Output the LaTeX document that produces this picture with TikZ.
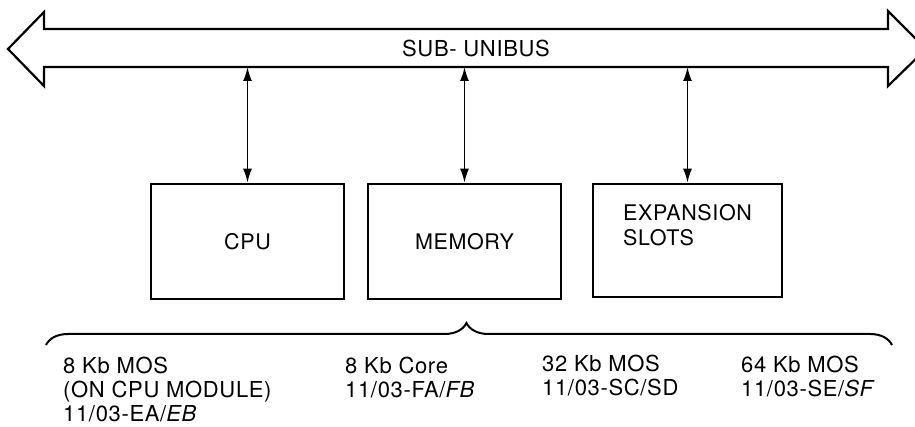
\documentclass[tikz,border=0pt]{standalone}
\usepackage{fontspec}
\setmainfont{TeX Gyre Heros}[LetterSpace=3]
\usetikzlibrary{arrows.meta,decorations.pathreplacing}
\tikzset{
  unitbox/.style={draw,line width=2.6pt,minimum width=193pt,minimum height=115pt,
    align=left,font=\fontsize{21.5}{25}\selectfont},
  colnote/.style={anchor=north west,inner sep=0pt,align=left,
    font=\fontsize{22}{24}\selectfont},
  buslink/.style={line width=1.8pt,{Latex[length=14pt,width=9pt]}-{Latex[length=14pt,width=9pt]}}
}
\begin{document}
\begin{tikzpicture}[x=1pt,y=-1pt]
	% Cadre de la figure
	\useasboundingbox (0,0) rectangle (915,427);
	\clip (0,0) rectangle (915,427);
	% Bus en double fleche
	\draw [line width=2.2pt,line join=miter]
	  (8,49) -- (44,12) -- (44,29) -- (888,29) -- (888,11) -- (926,49)
	  -- (888,86) -- (888,67) -- (44,67) -- (44,86) -- cycle;
	\node (bus) at (476,48.5) {\fontsize{22}{24}\selectfont SUB- UNIBUS};
	\coordinate (busbot) at (476,67);
	% Modules
	\node [unitbox] (cpu) at (247.5,241.5) {CPU};
	\node [unitbox] (mem) at (464.5,241.5) {MEMORY};
	\node [unitbox,minimum width=189pt,minimum height=113pt] (exp) at (687.5,240.5) {EXPANSION\\SLOTS\\[6pt]};
	% Liaisons au bus
	\draw [buslink] (cpu.north |- busbot) -- (cpu.north);
	\draw [buslink] (mem.north |- busbot) -- (mem.north);
	\draw [buslink] (exp.north |- busbot) -- (exp.north);
	% Accolade et options memoire
	\coordinate (bl) at (46,345);
	\coordinate (br) at (892,345);
	\draw [line width=2pt,decorate,decoration={brace,amplitude=22pt,aspect=0.497}] (bl) -- (br);
	\node [colnote] (mos8) at (63,357) {8 Kb MOS\\(ON CPU MODULE)\\11/03-EA/\textit{EB}};
	\node [colnote] (core8) at (345,357) {8 Kb Core\\11/03-FA/\textit{FB}};
	\node [colnote] (mos32) at (542,355) {32 Kb MOS\\11/03-SC/SD};
	\node [colnote] (mos64) at (741,356) {64 Kb MOS\\11/03-SE/\textit{SF}};
\end{tikzpicture}
\end{document}
